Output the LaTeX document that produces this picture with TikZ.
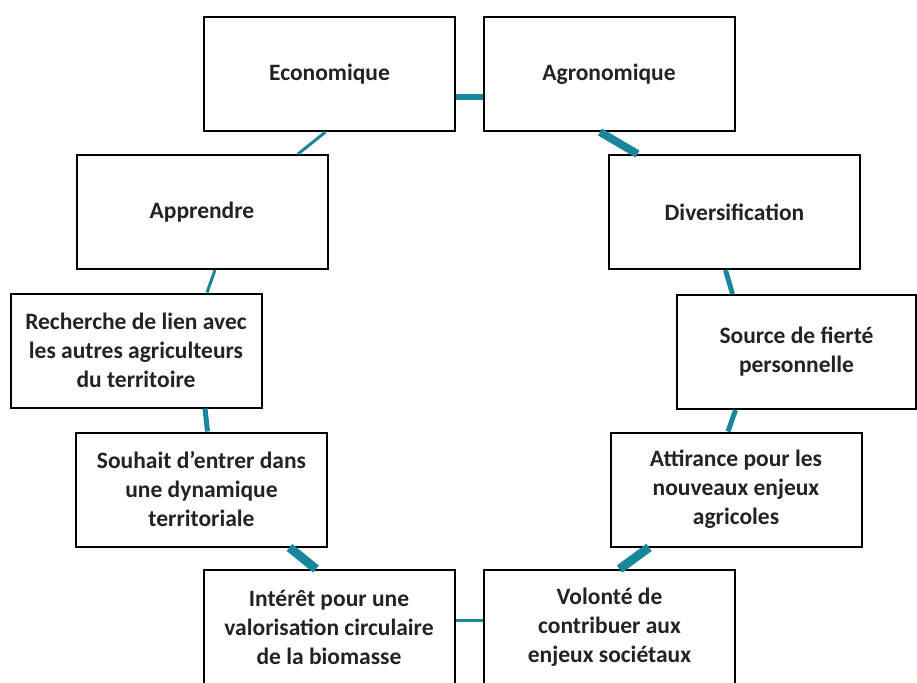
\documentclass[tikz,border=0pt]{standalone}
\usepackage{fontspec}
\setmainfont{Carlito}
\definecolor{teal1}{RGB}{24,134,156}
\definecolor{txt}{RGB}{35,35,35}
\begin{document}
\begin{tikzpicture}[x=1pt,y=-1pt,
  box/.style={draw=black,line width=2pt,fill=white,minimum width=251pt,minimum height=114pt,
    align=center,inner sep=2pt,text=txt,font=\bfseries\fontsize{23.5}{29}\selectfont},
  link/.style={draw=teal1,line cap=butt}]
\useasboundingbox (0,0) rectangle (917,682);
\node[box] (eco) at (329.5,74) {Economique};
\node[box] (agr) at (609,74) {Agronomique};
\node[box] (app) at (202,212) {Apprendre};
\node[box] (div) at (734.5,212) {Diversification};
\node[box] (rec) at (136,350.5) {Recherche de lien avec\\les autres agriculteurs\\du territoire};
\node[box,minimum width=239pt] (src) at (796.5,352) {Source de fierté\\personnelle};
\node[box] (sou) at (201.5,489.5) {Souhait d’entrer dans\\une dynamique\\territoriale};
\node[box] (att) at (736,489.5) {Attirance pour les\\nouveaux enjeux\\agricoles};
\node[box] (int) at (329,627) {Intérêt pour une\\valorisation circulaire\\de la biomasse};
\node[box] (vol) at (609.5,627) {Volonté de\\contribuer aux\\enjeux sociétaux};
\draw[link,line width=6pt] ([yshift=-23pt]eco.east) -- ([yshift=-23pt]agr.west);
\draw[link,line width=3pt] ([xshift=-4pt]eco.south) -- ([xshift=96pt]app.north);
\draw[link,line width=8pt] ([xshift=-9pt]agr.south) -- ([xshift=-97pt]div.north);
\draw[link,line width=3pt] ([xshift=13pt]app.south) -- ([xshift=71pt]rec.north);
\draw[link,line width=5pt] ([xshift=-9pt]div.south) -- ([xshift=-64pt]src.north);
\draw[link,line width=5pt] ([xshift=69pt]rec.south) -- ([xshift=6pt]sou.north);
\draw[link,line width=5pt] ([xshift=-61pt]src.south) -- ([xshift=-8pt]att.north);
\draw[link,line width=9pt] ([xshift=88pt]sou.south) -- ([xshift=-13pt]int.north);
\draw[link,line width=9pt] ([xshift=-87pt]att.south) -- ([xshift=10pt]vol.north);
\draw[link,line width=3pt] ([yshift=7pt]int.east) -- ([yshift=7pt]vol.west);
\end{tikzpicture}
\end{document}
